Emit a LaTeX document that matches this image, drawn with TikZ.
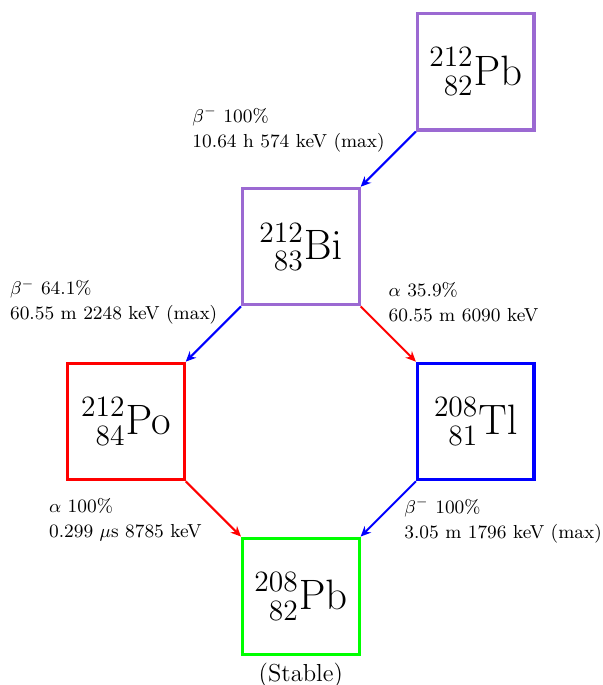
\documentclass[tikz,border=0pt]{standalone}
\usepackage{amsmath,mathtools}
\usepackage{xcolor}
\definecolor{chainpurple}{RGB}{155,105,210}
\usepackage{tikz}
\usetikzlibrary{arrows.meta,positioning}
\tikzset{
  nuc/.style={rectangle,minimum size=2cm,inner sep=0pt,
    line width=1.5pt,font=\fontsize{19.5}{23}\selectfont},
  nuc_chain/.style={nuc,draw=chainpurple},
  nuc_po/.style={nuc,draw=red},
  nuc_tl/.style={nuc,draw=blue},
  nuc_stable/.style={nuc,draw=green},
  decay_lbl/.style={align=left,font=\fontsize{9.2}{12.2}\selectfont,inner sep=2pt},
  arr_beta/.style={-{Stealth[length=5pt,width=4.5pt]},line width=1pt,draw=blue},
  arr_alpha/.style={-{Stealth[length=5pt,width=4.5pt]},line width=1pt,draw=red},
}

\begin{document}
\begin{tikzpicture}[on grid]
  \useasboundingbox (-5.16,-7.52) rectangle (5.18,4.23);
  \node (bi) [nuc_chain] {$\prescript{212}{83}{\mathrm{Bi}}$};
  \node (pb_top) [nuc_chain, above right=3cm and 3cm of bi]
    {$\prescript{212}{82}{\mathrm{Pb}}$};
  % branches
  \node (po) [nuc_po, below left=3cm and 3cm of bi]
    {$\prescript{212}{84}{\mathrm{Po}}$};
  \node (tl) [nuc_tl, below right=3cm and 3cm of bi]
    {$\prescript{208}{81}{\mathrm{Tl}}$};
  \node (pb_end) [nuc_stable, below=6cm of bi]
    {$\prescript{208}{82}{\mathrm{Pb}}$};
  \node (stable) [anchor=north, font=\large] at (pb_end.south) {(Stable)};

  % decay labels
  \node (l_pb) [decay_lbl] at (-0.21,2.01)
    {$\beta^-$ 100\%\\ 10.64 h 574 keV (max)};
  \node (l_bibeta) [decay_lbl] at (-3.21,-0.95)
    {$\beta^-$ 64.1\%\\ 60.55 m 2248 keV (max)};
  \node (l_bialpha) [decay_lbl] at (2.79,-0.95)
    {$\alpha$ 35.9\%\\ 60.55 m 6090 keV};
  \node (l_po) [decay_lbl] at (-3.01,-4.69)
    {$\alpha$ 100\%\\ 0.299 $\mu$s 8785 keV};
  \node (l_tl) [decay_lbl] at (3.47,-4.69)
    {$\beta^-$ 100\%\\ 3.05 m 1796 keV (max)};

  \draw[arr_beta]  (pb_top.south west) -- (bi.north east);
  \draw[arr_beta]  (bi.south west) -- (po.north east);
  \draw[arr_alpha] (bi.south east) -- (tl.north west);
  \draw[arr_alpha] (po.south east) -- (pb_end.north west);
  \draw[arr_beta]  (tl.south west) -- (pb_end.north east);
\end{tikzpicture}
\end{document}
